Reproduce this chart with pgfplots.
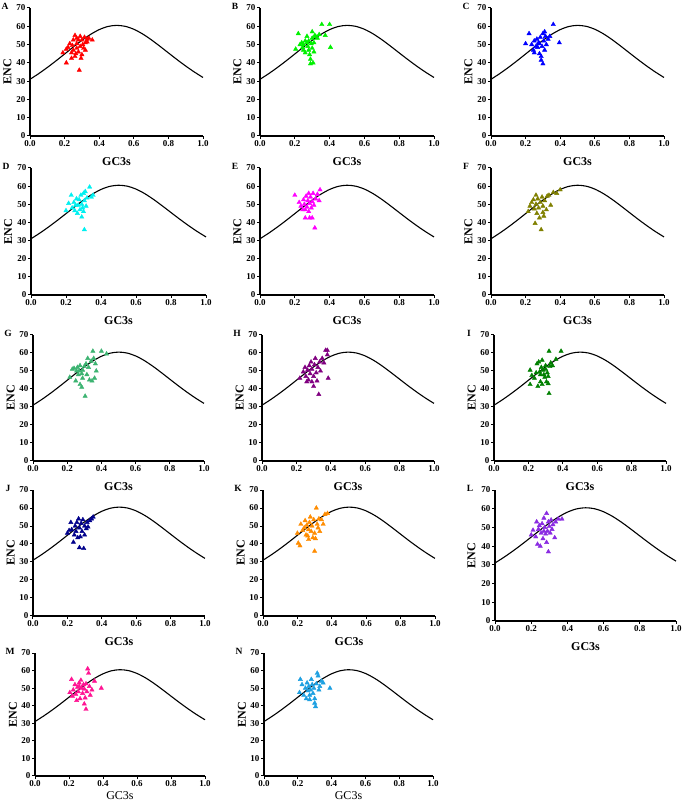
\documentclass[border=0pt]{standalone}
\usepackage{pgfplots}
\pgfplotsset{compat=1.18}
\usepackage{pgfplotstable}
\usepackage{fontspec}
\setmainfont{Liberation Serif}

\definecolor{cA}{RGB}{255,0,0}
\definecolor{cB}{RGB}{0,240,0}
\definecolor{cC}{RGB}{0,0,255}
\definecolor{cD}{RGB}{0,240,240}
\definecolor{cE}{RGB}{255,0,255}
\definecolor{cF}{RGB}{128,128,0}
\definecolor{cG}{RGB}{60,179,113}
\definecolor{cH}{RGB}{128,0,128}
\definecolor{cI}{RGB}{0,128,0}
\definecolor{cJ}{RGB}{0,0,139}
\definecolor{cK}{RGB}{255,140,0}
\definecolor{cL}{RGB}{138,43,226}
\definecolor{cM}{RGB}{255,20,147}
\definecolor{cN}{RGB}{30,160,225}

% expected ENC curve, listed values
\pgfplotstableread{
x y
0 31.0
0.05 34.09
0.1 37.47
0.15 41.08
0.2 44.85
0.25 48.65
0.3 52.30
0.35 55.56
0.4 58.17
0.45 59.88
0.5 60.5
0.55 59.98
0.6 58.37
0.65 55.86
0.7 52.70
0.75 49.15
0.8 45.45
0.85 41.78
0.9 38.27
0.95 34.99
1.0 32.0
}\curvetab

\pgfplotstableread{
x y
0.19 45.5
0.21 47.5
0.21 40
0.23 50.5
0.24 42.5
0.24 45.5
0.25 52.5
0.25 47
0.26 55
0.265 45
0.27 53.5
0.27 48
0.27 50.5
0.28 52.5
0.28 46
0.285 36
0.29 49
0.29 54.5
0.295 42.5
0.30 52.5
0.30 44.5
0.305 50
0.31 48
0.315 54
0.32 51
0.32 47
0.33 51.5
0.33 53
0.34 53.5
0.36 52.5
0.22 48.5
0.245 49.5
0.26 43.5
}\dataA

\pgfplotstableread{
x y
0.205 47.5
0.22 56
0.23 50
0.24 51
0.245 48.5
0.25 50
0.26 45.5
0.26 52
0.27 54.5
0.275 49
0.28 52
0.28 47
0.285 44.5
0.29 42
0.29 39.5
0.295 50.5
0.30 53.5
0.30 57
0.305 40
0.31 51
0.31 46
0.32 54.5
0.33 53.5
0.34 55.5
0.355 61
0.375 55
0.40 61
0.405 48.5
0.25 47
0.27 51
0.30 48
0.315 55
}\dataB

\pgfplotstableread{
x y
0.20 50.5
0.22 56
0.235 50
0.245 47
0.25 52
0.26 49
0.265 53
0.27 48.5
0.275 51
0.28 45
0.285 54
0.29 43.5
0.29 41.5
0.295 49
0.30 39.5
0.30 56
0.305 52
0.31 47
0.315 54.5
0.32 50
0.33 53
0.34 54.5
0.36 61
0.395 51
0.25 45.5
0.28 50.5
0.31 57
}\dataC

\pgfplotstableread{
x y
0.20 46.5
0.215 50.5
0.23 55
0.235 48
0.245 51
0.25 46.5
0.26 53
0.265 45
0.27 49.5
0.275 52.5
0.28 47
0.285 55
0.29 43
0.29 50
0.295 48
0.30 56
0.305 52
0.305 36
0.31 57
0.315 49
0.32 53.5
0.335 59.5
0.345 54
0.355 55
0.30 46
0.255 49.5
}\dataD

\pgfplotstableread{
x y
0.20 55
0.225 51
0.235 49
0.245 47
0.25 52.5
0.255 50
0.26 42.5
0.265 54.5
0.27 48.5
0.275 52
0.28 46
0.285 50.5
0.285 42.5
0.29 54
0.295 48
0.30 42.5
0.30 51.5
0.305 56
0.31 49.5
0.315 37
0.32 53
0.33 55.5
0.345 58
0.34 52
0.26 47
0.28 56
}\dataE

\pgfplotstableread{
x y
0.215 46
0.225 49
0.235 51
0.245 52.5
0.25 47.5
0.255 39.5
0.26 50
0.265 45
0.27 53
0.275 48
0.28 42.5
0.285 51
0.29 36
0.295 54
0.30 49
0.305 43.5
0.31 52
0.32 47
0.325 54.5
0.335 55
0.345 49.5
0.36 56.5
0.38 56
0.40 58
0.26 55
0.30 45.5
}\dataF

\pgfplotstableread{
x y
0.215 46.5
0.23 51
0.24 51.5
0.25 44.5
0.255 50
0.26 52
0.265 48
0.275 42.5
0.275 53
0.285 41
0.285 48.5
0.29 50.5
0.30 52.5
0.305 36
0.31 54
0.315 48
0.32 57
0.325 52
0.33 45
0.34 55.5
0.345 44.5
0.35 61
0.355 57
0.36 46
0.365 54
0.37 50
0.40 61
0.43 59.5
0.29 46
0.27 50
}\dataG

\pgfplotstableread{
x y
0.22 46
0.24 49.5
0.25 52
0.255 47
0.265 50.5
0.27 45
0.275 53
0.28 48.5
0.285 55
0.29 44
0.29 51
0.30 47
0.30 41.5
0.305 53.5
0.31 57
0.315 49
0.32 44.5
0.325 52
0.33 37
0.335 55
0.34 50
0.35 57
0.36 54.5
0.37 61.5
0.38 61.5
0.385 46
0.38 59
0.26 44
}\dataH

\pgfplotstableread{
x y
0.21 50.5
0.21 42.5
0.22 47.5
0.235 46
0.245 49
0.25 54
0.255 41.5
0.26 55
0.265 49.5
0.27 44
0.275 52
0.28 56
0.28 42.5
0.285 50.5
0.29 48
0.295 46.5
0.30 53
0.30 51
0.305 44
0.31 49
0.315 43
0.315 47
0.32 61
0.32 37.5
0.325 52.5
0.33 54.5
0.34 53
0.36 56.5
0.39 61
0.27 48
}\dataI

\pgfplotstableread{
x y
0.20 46
0.21 47.5
0.22 52
0.225 48
0.235 41
0.24 45
0.245 50
0.25 47
0.255 52
0.265 54
0.27 38
0.27 49
0.275 44
0.28 51.5
0.285 47
0.29 53.5
0.295 37.5
0.30 45
0.30 50
0.31 48.5
0.315 52
0.32 49.5
0.33 53
0.34 54
0.35 55
0.26 43.5
}\dataJ

\pgfplotstableread{
x y
0.20 46
0.205 40.5
0.215 39
0.22 51
0.23 47.5
0.24 49
0.245 53
0.25 45
0.255 50.5
0.26 44.5
0.265 48
0.27 52
0.275 55
0.28 47
0.285 50
0.29 43.5
0.295 53.5
0.30 36
0.30 46
0.305 43
0.31 60
0.315 51
0.32 49
0.325 54
0.33 47
0.34 53.5
0.35 51
0.36 56.5
0.375 57
0.265 42.5
}\dataK

\pgfplotstableread{
x y
0.20 46
0.21 48.5
0.225 45
0.23 53
0.235 41
0.24 49
0.245 51
0.25 40
0.255 47
0.26 52
0.265 44
0.27 55
0.275 50
0.28 46.5
0.285 57.5
0.285 42
0.29 48
0.295 53
0.295 37
0.30 50.5
0.305 47
0.31 54
0.315 49
0.32 51.5
0.33 44.5
0.335 53
0.35 54.5
0.37 54.5
0.27 48
}\dataL

\pgfplotstableread{
x y
0.205 47.5
0.215 55
0.22 45.5
0.225 49
0.235 52
0.24 46.5
0.245 43
0.25 50.5
0.255 48
0.26 53
0.265 44
0.27 54.5
0.275 50
0.28 47
0.285 52
0.29 41
0.29 49.5
0.295 44.5
0.30 38
0.30 52.5
0.305 48
0.31 61
0.315 58.5
0.32 51
0.325 46
0.335 49
0.35 54
0.39 50
0.26 51
}\dataM

\pgfplotstableread{
x y
0.21 47.5
0.215 55
0.225 52
0.235 46
0.245 50
0.25 44
0.255 53
0.26 48.5
0.265 51
0.27 46
0.275 49
0.28 55
0.285 52
0.29 47
0.295 50
0.30 41.5
0.30 44
0.305 39.5
0.31 52.5
0.315 58.5
0.32 57
0.325 49
0.33 51
0.34 54
0.35 53
0.39 50
0.27 43.5
}\dataN

\pgfplotsset{
  encstyle/.style={
    scale only axis,
    xmin=0, xmax=1, ymin=0, ymax=70,
    axis x line*=bottom, axis y line*=left,
    axis line style={line width=1.3pt},
    xtick={0,0.2,0.4,0.6,0.8,1},
    ytick={0,10,20,30,40,50,60,70},
    tick align=outside,
    major tick length=3pt,
    tick style={line width=1pt, black},
    xticklabel style={/pgf/number format/fixed, /pgf/number format/fixed zerofill, /pgf/number format/precision=1, inner sep=1.5pt},
    yticklabel style={inner sep=1.5pt},
    /pgf/number format/assume math mode=true,
    tick label style={font=\bfseries\fontsize{9}{10}\selectfont},
    xlabel={GC3s}, ylabel={ENC},
    ylabel style={font=\bfseries\fontsize{12}{13}\selectfont, at={(axis description cs:-0.13,0.5)}, anchor=center},
    clip=false,
  }
}

% #1 x, #2 y, #3 width, #4 height, #5 letter, #6 colour, #7 table, #8 xlabel font, #9 xlabel shift
\newcommand{\panel}[9]{%
\begin{axis}[encstyle, at={(#1pt,#2pt)}, anchor=south west, width=#3pt, height=#4pt,
    xlabel style={font={#8}, at={(axis description cs:0.5,0)}, yshift=-#9pt, anchor=center}]
\addplot[only marks, mark=triangle*, mark size=2.5pt, color=#6] table {#7};
\addplot[black, line width=1.1pt, smooth, no marks] table {\curvetab};
\node[font=\bfseries\fontsize{9.5}{10}\selectfont, anchor=center, xshift=-25pt, yshift=2pt] at (rel axis cs:0,1) {#5};
\end{axis}}

\newcommand{\bl}{\bfseries\fontsize{12}{13}\selectfont}
\newcommand{\nl}{\fontsize{12}{13}\selectfont}

\begin{document}
\begin{tikzpicture}
\path[use as bounding box] (0pt,0pt) rectangle (685pt,806pt);
\panel{30}{670}{173}{128}{A}{cA}{\dataA}{\bl}{26}
\panel{260}{670}{174}{128}{B}{cB}{\dataB}{\bl}{26}
\panel{491}{670}{173}{128}{C}{cC}{\dataC}{\bl}{26}
\panel{31}{511}{175}{127}{D}{cD}{\dataD}{\bl}{26}
\panel{260}{511}{174}{127}{E}{cE}{\dataE}{\bl}{26}
\panel{491}{511}{173}{127}{F}{cF}{\dataF}{\bl}{26}
\panel{33}{345}{171}{126}{G}{cG}{\dataG}{\bl}{26}
\panel{262}{345}{172}{126}{H}{cH}{\dataH}{\bl}{26}
\panel{494}{345}{172}{126}{I}{cI}{\dataI}{\bl}{26}
\panel{33}{190}{172}{126}{J}{cJ}{\dataJ}{\bl}{26}
\panel{263}{190}{172}{126}{K}{cK}{\dataK}{\bl}{26}
\panel{495}{185}{181}{131}{L}{cL}{\dataL}{\bl}{26}
\panel{35}{30}{170}{123}{M}{cM}{\dataM}{\nl}{20}
\panel{264}{30}{169}{123}{N}{cN}{\dataN}{\nl}{20}
\end{tikzpicture}
\end{document}
